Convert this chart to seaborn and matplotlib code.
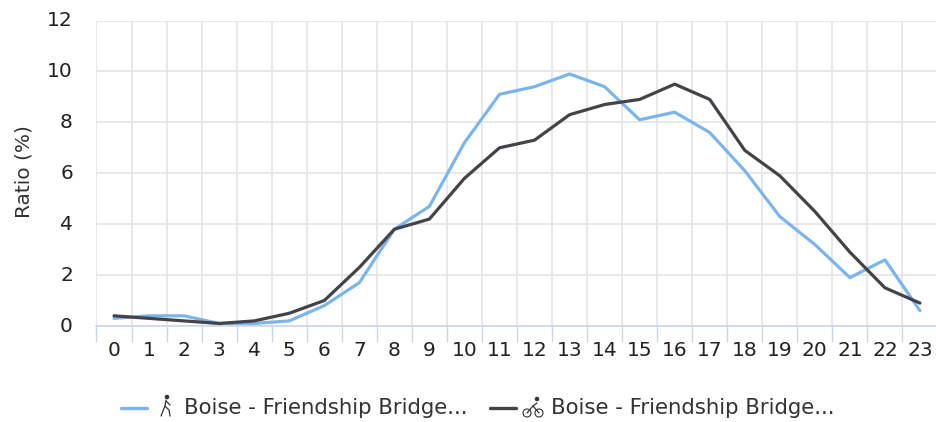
import matplotlib
matplotlib.use("Agg")
import matplotlib.pyplot as plt
import matplotlib.transforms as mtrans
from matplotlib.lines import Line2D
from matplotlib.patches import Ellipse
import pandas as pd
import seaborn as sns

hours = list(range(24))
walk_values = [0.3, 0.4, 0.4, 0.1, 0.1, 0.2, 0.8, 1.7, 3.8, 4.7, 7.2, 9.1,
               9.4, 9.9, 9.4, 8.1, 8.4, 7.6, 6.1, 4.3, 3.2, 1.9, 2.6, 0.6]
bike_values = [0.4, 0.3, 0.2, 0.1, 0.2, 0.5, 1.0, 2.3, 3.8, 4.2, 5.8, 7.0,
               7.3, 8.3, 8.7, 8.9, 9.5, 8.9, 6.9, 5.9, 4.5, 2.9, 1.5, 0.9]
series_names = ["walk", "bike"]
legend_label = "Boise - Friendship Bridge..."
y_ticks = [0, 2, 4, 6, 8, 10, 12]
palette = {"walk": "#7cb5ec", "bike": "#434348"}

sns.set_theme(style="white")
plt.rcParams["font.family"] = ["DejaVu Sans"]

df = pd.DataFrame({
    "hour": hours * 2,
    "ratio": walk_values + bike_values,
    "series": [series_names[0]] * 24 + [series_names[1]] * 24,
})

W, H = 937, 422
fig = plt.figure(figsize=(W / 100, H / 100), dpi=100, facecolor="white")
ax = fig.add_axes([96.5 / W, (H - 326) / H, (937.5 - 96.5) / W, 305.5 / H])
sns.lineplot(data=df, x="hour", y="ratio", hue="series", palette=palette,
             linewidth=2.3, legend=False, ax=ax, zorder=3, clip_on=False)

ax.set_xlim(-0.5, 23.5)
ax.set_ylim(0, 12)
ax.set_xticks(hours)
ax.set_xticklabels([str(h) for h in hours])
ax.set_xticks([h - 0.5 for h in hours] + [23.5], minor=True)
ax.set_yticks(y_ticks)
ax.set_yticklabels([str(v) for v in y_ticks])
ax.tick_params(axis="x", which="major", bottom=False, length=0, pad=11, labelsize=14.5, labelcolor="#222222")
ax.tick_params(axis="x", which="minor", bottom=True, length=11.5, width=1, color="#ccd6eb")
ax.tick_params(axis="y", left=False, length=0, pad=17, labelsize=14.5, labelcolor="#222222")
shift = mtrans.ScaledTranslation(0, 2 / 100, fig.dpi_scale_trans)
for lab in ax.get_yticklabels():
    lab.set_transform(lab.get_transform() + shift)
ax.grid(True, axis="y", which="major", color="#e6e6e6", linewidth=1.3)
ax.grid(True, axis="x", which="minor", color="#e6e6e6", linewidth=1.3)
ax.grid(False, axis="x", which="major")
ax.set_axisbelow(True)
for side in ["top", "right", "left"]:
    ax.spines[side].set_visible(False)
ax.spines["bottom"].set_color("#ccd6eb")
ax.spines["bottom"].set_linewidth(1.2)
ax.set_xlabel("")
ax.set_ylabel("")
fig.text(24 / W, 1 - 172 / H, "Ratio (%)", rotation=90, ha="center", va="center",
         fontsize=14.5, color="#333333")


def P(x, y):
    return x / W, 1 - y / H


def seg(points, color="#333333", lw=0.9):
    xs, ys = zip(*[P(*p) for p in points])
    fig.add_artist(Line2D(xs, ys, color=color, lw=lw, solid_capstyle="round"))


def dot(x, y, d=3.4, fill=True):
    fig.add_artist(Ellipse(P(x, y), d / W, d / H, transform=fig.transFigure,
                           facecolor="#333333" if fill else "none",
                           edgecolor="#333333", lw=0.8))


# legend
for x0, x1, name, tx in [(121, 147, "walk", 184), (490, 516, "bike", 551)]:
    xs, ys = zip(P(x0, 408), P(x1, 408))
    fig.add_artist(Line2D(xs, ys, color=palette[name], lw=2.4))
    fig.text(tx / W, 1 - 408 / H, legend_label, ha="left", va="center",
             fontsize=15.3, color="#333333")

# pedestrian icon
dot(167, 397)
seg([(166, 400), (165, 406), (161, 416)])
seg([(165, 406), (169, 410), (170, 416)])
seg([(166, 401), (170, 405)])
# bicycle icon
dot(527, 413, 8, fill=False)
dot(539, 413, 8, fill=False)
seg([(527, 413), (533, 406), (539, 413)])
seg([(533, 406), (537, 403)])
dot(537, 399)

fig.savefig("out.png", dpi=100, facecolor="white")
